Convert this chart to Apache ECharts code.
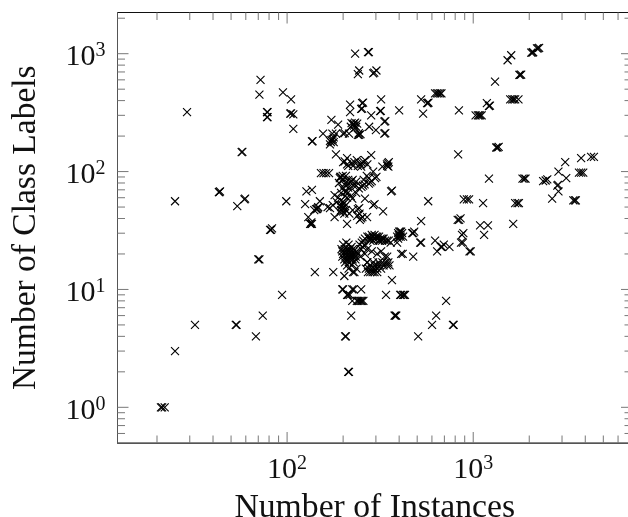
<!DOCTYPE html>
<html><head><meta charset="utf-8">
<script src="https://cdn.jsdelivr.net/npm/echarts@6/dist/echarts.min.js"></script>
<style>html,body{margin:0;padding:0;background:#fff}#c{width:628px;height:517px}</style>
</head><body><div id="c"></div>
<script>
// [number of instances, number of class labels]
const leftPoints = [[72,600],[71,450],[29,320],[95,470],[105,410],[78,320],[78.5,320],[78,290],[78.5,290],[104,310],[105,312],[108,305],[108,230],[136,180],[137,181],[57,146],[57.5,147],[43,67],[43.3,67],[43.6,68],[59,58],[59.5,59],[54,51],[25,56],[99,56],[127,68],[136,70],[125,53],[145,48],[146,49],[130,41],[133,36],[134,36],[135,37],[81,32],[82,32],[83,33],[70,18],[71,18],[141,14],[94,9],[74,6],[68,4],[53,5],[53.5,5],[32,5],[25,3],[21,1],[21.3,1],[22,1]];
const bottomPoints = [[177,14],[203,13],[226,14],[230,14],[366,12],[198,10],[200,10],[224,10],[228,10],[250,10],[210,9],[213,9],[217,9],[340,9],[405,9],[410,9],[420,9],[425,9],[430,9],[224,8],[237,8],[241,8],[245,8],[249,8],[253,8],[257,8],[715,8],[221,6],[378,6],[382,6],[386,6],[632,6],[601,5],[778,5],[785,5],[205,4],[207,4],[506,4],[213,2],[215,2]];
const topRightPoints = [[232,1000],[272,1030],[275,1030],[244,720],[240,670],[302,720],[290,680],[294,690],[320,410],[218,370],[218,320],[253,380],[256,385],[250,340],[253,342],[316,325],[319,327],[400,330],[525,410],[565,380],[570,380],[575,385],[538,310],[624,460],[638,460],[650,460],[664,460],[675,460],[838,330],[1030,300],[1060,300],[1075,300],[1090,300],[1110,300],[1184,380],[1215,360],[1230,362],[1310,580],[1530,880],[1600,970],[1770,660],[1790,660],[1810,665],[2050,1020],[2080,1020],[2100,1030],[2200,1110],[2230,1110],[2260,1120],[1580,410],[1620,410],[1650,410],[1680,410],[1750,410],[1330,160],[1350,160],[1370,162],[830,140]];
const rightPoints = [[3120,120],[3800,130],[4300,133],[4450,133],[2870,100],[3160,88],[3700,98],[3800,98],[3900,98],[2375,83],[2500,86],[2450,84],[2830,76],[2860,77],[2870,68],[2655,59],[3450,57],[3520,57],[3560,57],[1840,87],[1880,87],[1910,87],[1215,87],[890,58],[925,58],[950,58],[573,56],[1130,54],[1680,54],[1730,54],[1760,54],[825,39],[840,39],[855,40],[525,38],[870,29],[885,30],[860,25],[880,25],[955,21],[970,21],[1089,35],[1200,35],[1144,29],[1640,36],[624,26],[670,23],[680,23],[695,24],[745,23],[640,21],[519,25],[525,25],[476,19],[410,20],[418,20]];
const upperClusterPoints = [[173,275],[188,250],[156,210],[173,185],[176,188],[170,182],[175,210],[170,170],[200,210],[204,212],[183,210],[215,210],[226,250],[232,260],[220,240],[235,240],[229,245],[240,205],[244,205],[248,208],[283,300],[276,240],[300,225],[333,265],[337,268],[333,210],[337,212],[228,255],[222,258],[238,255],[232,235],[178,195],[172,178],[178,178],[243,212]];
const midClusterPoints = [[183,140],[210,130],[200,120],[204,122],[226,112],[213,112],[240,112],[253,118],[258,120],[248,115],[283,138],[325,110],[348,118],[352,120],[344,115],[345,112],[350,110],[152,97],[157,97],[162,97],[168,97],[195,90],[199,92],[192,88],[218,81],[222,83],[214,79],[225,85],[210,78],[290,100],[297,88],[302,90],[280,81],[285,83],[275,79],[256,76],[261,78],[251,74],[235,82],[362,68],[366,69],[205,67],[209,68],[213,73],[180,63],[195,57],[188,60],[224,59],[262,59],[150,56],[143,48],[147,50],[140,47],[170,49],[198,49],[202,50],[195,47],[203,54],[193,45],[240,48],[244,49],[290,52],[295,53],[328,46],[180,41],[250,40],[254,41],[246,39],[269,41],[210,36],[136,36],[193,90],[200,85],[207,92],[190,80],[203,78],[213,85],[228,76],[235,76],[243,72],[258,85],[268,92],[275,88],[212,66],[198,72],[205,62],[195,66],[210,60],[200,55],[205,51],[192,52],[198,52],[207,47],[195,50],[200,46],[203,44],[220,62],[235,66],[185,55],[176,52],[165,50],[225,47],[216,44],[238,42],[245,44],[250,110],[230,120],[222,118],[237,125],[210,115],[270,115],[262,125]];
const lowClusterPoints = [[200,24],[208,25],[214,24],[222,23],[196,22],[204,22],[211,22],[218,22],[226,22],[198,21],[205,21],[213,21],[220,21],[228,21],[236,21],[200,20],[207,20],[214,20],[222,20],[230,20],[240,20],[198,19],[206,19],[212,19],[219,19],[226,19],[234,19],[248,19],[203,18],[210,18],[218,18],[225,18],[233,18],[205,17],[216,17],[228,17],[210,16],[222,16],[214,15],[236,15]];
const archPoints = [[245,24],[252,25],[256,26],[262,27],[270,28],[276,28],[282,27],[288,28],[294,27],[300,28],[306,27],[312,28],[318,27],[324,26],[330,27],[336,26],[345,26],[352,26],[360,25],[262,24],[255,23],[250,22],[262,20],[305,20],[345,19],[269,17],[390,25],[400,28],[405,29],[410,31],[415,30],[420,28],[470,30],[476,30],[482,31],[275,27],[285,29],[295,29],[305,28],[315,26],[325,27],[280,26],[290,26],[310,26],[285,21],[270,22],[320,21],[335,19],[395,30],[400,31],[405,31],[398,29],[408,28],[395,27],[390,28]];
const blockPoints = [[270,17],[290,17],[310,17],[325,17],[340,17],[350,17],[280,16],[295,16],[305,16],[315,16],[330,16],[345,16],[355,16],[265,15],[275,15],[285,15],[295,15],[305,15],[320,15],[272,14],[280,14],[288,14],[295,14],[305,14]];
const allPoints = [].concat(leftPoints,bottomPoints,topRightPoints,rightPoints,upperClusterPoints,midClusterPoints,lowClusterPoints,archPoints,blockPoints);

const xMajorTicks = [100,1000];
const xMinorTicks = [20,30,40,50,60,70,80,90,200,300,400,500,600,700,800,900,2000,3000,4000,5000,6000,7000];
const yMajorTicks = [1,10,100,1000];
const yMinorTicks = [0.6,0.7,0.8,0.9,2,3,4,5,6,7,8,9,20,30,40,50,60,70,80,90,200,300,400,500,600,700,800,900,2000];
const xRange = [12.27,7130];
const yRange = [0.498,2236];
const xLabelTitle = 'Number of Instances';
const yLabelTitle = 'Number of Class Labels';

const FONT = '"Liberation Serif"';
const tickColor = '#777777';
const rich = {
  b:{fontFamily:FONT,fontSize:30,color:'#111',lineHeight:34},
  s:{fontFamily:FONT,fontSize:20,color:'#111',padding:[0,0,12,0],lineHeight:34}
};
function powerLabel(v){
  const e = Math.log10(v);
  if (Math.abs(e-Math.round(e))>1e-6) return '';
  return '{b|10}{s|'+Math.round(e)+'}';
}
// Tick marks: small rectangles placed through the axes' own log scales, pointing into the plot.
function tickSeries(data,size,offset){
  return {type:'scatter',data:data,symbol:'rect',symbolSize:size,symbolOffset:offset,
    itemStyle:{color:tickColor,opacity:1},emphasis:{disabled:true},tooltip:{show:false}};
}
function onX(values,y){return values.map(v=>[v,y]);}
function onY(values,x){return values.map(v=>[x,v]);}
const chart = echarts.init(document.getElementById('c'),null,{renderer:'canvas'});
chart.setOption({
  animation:false,
  backgroundColor:'#fff',
  grid:{left:117.5,top:12.5,width:514.5,height:430.5,outerBoundsMode:'none',containLabel:false,show:true,borderColor:'#111',borderWidth:1,backgroundColor:'transparent'},
  xAxis:{type:'log',logBase:10,min:xRange[0],max:xRange[1],
    name:xLabelTitle,nameLocation:'middle',nameGap:48,
    nameTextStyle:{fontFamily:FONT,fontSize:33.7,color:'#111'},
    axisLine:{show:true,lineStyle:{color:'#555',width:1}},axisTick:{show:false},splitLine:{show:false},minorTick:{show:false},
    axisLabel:{show:true,margin:10,showMinLabel:false,showMaxLabel:false,formatter:powerLabel,rich:rich,hideOverlap:false}},
  yAxis:{type:'log',logBase:10,min:yRange[0],max:yRange[1],
    name:yLabelTitle,nameLocation:'middle',nameGap:74,
    nameTextStyle:{fontFamily:FONT,fontSize:33.5,color:'#111'},
    axisLine:{show:true,lineStyle:{color:'#555',width:1}},axisTick:{show:false},splitLine:{show:false},minorTick:{show:false},
    axisLabel:{show:true,margin:12,padding:[7,0,0,0],showMinLabel:false,showMaxLabel:false,formatter:powerLabel,rich:rich,hideOverlap:false}},
  series:[
    tickSeries(onX(xMinorTicks,yRange[0]),[1,7.5],[0,'-50%']),
    tickSeries(onX(xMinorTicks,yRange[1]),[1,7.5],[0,'50%']),
    tickSeries(onX(xMajorTicks,yRange[0]),[1,11],[0,'-50%']),
    tickSeries(onX(xMajorTicks,yRange[1]),[1,11],[0,'50%']),
    tickSeries(onY(yMinorTicks,xRange[0]),[7.5,1],['50%',0]),
    tickSeries(onY(yMinorTicks,xRange[1]),[7.5,1],['-50%',0]),
    tickSeries(onY(yMajorTicks,xRange[0]),[11,1],['50%',0]),
    tickSeries(onY(yMajorTicks,xRange[1]),[11,1],['-50%',0]),
    {type:'scatter',data:allPoints,symbol:'path://M0 0L10 10M0 10L10 0',symbolSize:8,
     itemStyle:{color:'rgba(0,0,0,0)',borderColor:'#000',borderWidth:1.1,opacity:1},
     emphasis:{disabled:true}}
  ]
});
</script></body></html>
